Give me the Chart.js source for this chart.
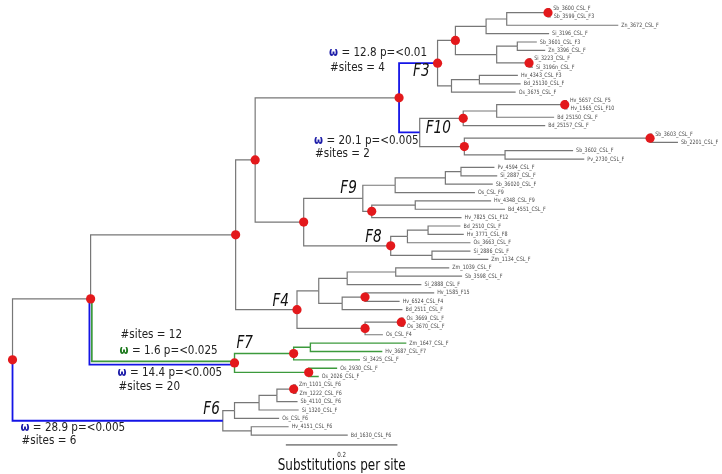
<!DOCTYPE html>
<html>
<head>
<meta charset="utf-8">
<script src="https://cdn.jsdelivr.net/npm/chart.js@4.4.0/dist/chart.umd.min.js"></script>
<style>
html, body { margin: 0; padding: 0; background: #fff; }
#wrap { width: 722px; height: 474px; position: relative; }
</style>
</head>
<body>
<div id="wrap"><canvas id="tree"></canvas></div>
<script>
//leaf tips, top to bottom as they appear in the tree
var leafNames = [
    "Sb_3600_CSL_F", "Sb_3599_CSL_F3", "Zn_3672_CSL_F", "Si_3196_CSL_F",
    "Sb_3601_CSL_F3", "Zn_3396_CSL_F", "Si_3223_CSL_F", "Si_3196n_CSL_F",
    "Hv_4343_CSL_F3", "Bd_25130_CSL_F", "Os_3675_CSL_F",
    "Hv_5657_CSL_F5", "Hv_1565_CSL_F10", "Bd_25150_CSL_F", "Bd_25157_CSL_F",
    "Sb_3603_CSL_F", "Sb_2201_CSL_F", "Sb_3602_CSL_F", "Pv_2730_CSL_F",
    "Pv_4594_CSL_F", "Si_2887_CSL_F", "Sb_36020_CSL_F", "Os_CSL_F9",
    "Hv_4348_CSL_F9", "Bd_4551_CSL_F", "Hv_7825_CSL_F12",
    "Bd_2510_CSL_F", "Hv_3771_CSL_F8", "Os_3663_CSL_F", "Si_2886_CSL_F", "Zm_1134_CSL_F",
    "Zm_1039_CSL_F", "Sb_3598_CSL_F", "Si_2888_CSL_F", "Hv_1585_F15", "Hv_6524_CSL_F4",
    "Bd_2511_CSL_F", "Os_3669_CSL_F", "Os_3670_CSL_F", "Os_CSL_F4",
    "Zm_1647_CSL_F", "Hv_3687_CSL_F7", "Si_3425_CSL_F", "Os_2930_CSL_F", "Os_2026_CSL_F",
    "Zm_1101_CSL_F6", "Zm_1222_CSL_F6", "Sb_4110_CSL_F6", "Si_1320_CSL_F", "Os_CSL_F6",
    "Hv_4151_CSL_F6", "Bd_1630_CSL_F6"
];
var leafParent = [
    "n12", "n12", "F3a1a", "F3a1", "n56", "n56", "n78", "n78", "n910", "n910", "F3b",
    "n1213", "n1213", "F10a1", "F10a", "n1617", "n1617", "n1819", "n1819",
    "n2021", "n2021", "F9a1", "F9a", "n2425", "n2425", "F9b",
    "n2728", "n2728", "F8a", "n3031", "n3031",
    "n3233", "n3233", "F4a1", "n3536", "n3536", "F4a2", "n3839", "n3839", "F4b",
    "n4142", "n4142", "F7a", "n4445", "n4445",
    "n4647", "n4647", "F6a1a", "F6a1", "F6a", "n5152", "n5152"
];
var leafLength = [
    0.004, 0.005, 0.200, 0.113, 0.035, 0.050, 0.004, 0.007, 0.069, 0.074, 0.115,
    0.004, 0.005, 0.103, 0.147, 0.004, 0.050, 0.122, 0.142,
    0.060, 0.065, 0.085, 0.143, 0.136, 0.161, 0.161,
    0.058, 0.064, 0.113, 0.069, 0.101,
    0.096, 0.119, 0.133, 0.124, 0.062, 0.108, 0.004, 0.005, 0.032,
    0.172, 0.129, 0.119, 0.051, 0.018,
    0.004, 0.005, 0.037, 0.071, 0.080, 0.067, 0.173
];

//internal nodes, every parent listed before its children
var nodeNames = [
    "R", "B", "F6", "C", "F7", "D", "F4", "P", "E", "F3", "F10",
    "F3a", "F3a1", "F3a1a", "n12", "F3a2", "n56", "n78", "F3b", "n910",
    "F10a", "F10a1", "n1213", "F10b", "n1617", "n1819",
    "F9", "F9a", "F9a1", "n2021", "F9b", "n2425",
    "F8", "F8a", "n2728", "n3031",
    "F4a", "F4a1", "n3233", "F4a2", "n3536", "F4b", "n3839",
    "F7a", "n4142", "n4445",
    "F6a", "F6a1", "F6a1a", "n4647", "n5152"
];
var nodeParent = [
    null, "R", "R", "B", "B", "C", "C", "D", "D", "P", "P",
    "F3", "F3a", "F3a1", "F3a1a", "F3a", "F3a2", "F3a2", "F3", "F3b",
    "F10", "F10a", "F10a1", "F10", "F10b", "F10b",
    "E", "F9", "F9a", "F9a1", "F9", "F9b",
    "E", "F8", "F8a", "F8",
    "F4", "F4a", "F4a1", "F4a", "F4a2", "F4", "F4b",
    "F7", "F7a", "F7",
    "F6", "F6a", "F6a1", "F6a1a", "F6"
];
var nodeLength = [
    0, 0.140, 0.377, 0.260, 0.258, 0.035, 0.110, 0.258, 0.087, 0.069, 0.037,
    0.032, 0.055, 0.037, 0.074, 0.074, 0.037, 0.058, 0.025, 0.050,
    0.078, 0.060, 0.122, 0.080, 0.333, 0.073,
    0.106, 0.058, 0.090, 0.028, 0.016, 0.078,
    0.156, 0.030, 0.037, 0.074,
    0.039, 0.051, 0.087, 0.042, 0.041, 0.122, 0.065,
    0.106, 0.030, 0.133,
    0.021, 0.044, 0.032, 0.030, 0.051
];

//nodes with a red dot (supported nodes)
var dotNodes = ["R", "B", "C", "D", "E", "P", "F3", "F3a", "n12", "n78", "F10a", "n1213",
    "F10b", "n1617", "F9b", "F8", "F4", "n3536", "F4b", "n3839", "F7", "F7a", "n4445", "n4647"];

var cladeNames = ["F3", "F10", "F9", "F8", "F4", "F7", "F6"];

//branches under positive selection
var selBranch = ["F3", "F10", "F7", "F7", "F6"];
var selColor = ["blue", "blue", "green", "blue", "blue"];
var selOmega = ["12.8", "20.1", "1.6", "14.4", "28.9"];
var selP = ["<0.01", "<0.005", "<0.025", "<0.005", "<0.005"];
var selSites = [4, 2, 12, 20, 6];

var rootEdge = 0.008;
var scaleBarValue = 0.2;
var scaleBarLabel = "Substitutions per site";

//layout
var X_MIN = -0.0142, X_MAX = 1.2637;
var Y_MIN = -0.47, Y_MAX = 55.10;
var SQUISH = 0.8;
var GRAY = "#777777", BLUE = "#1414e6", GREEN = "#3c9a3c", RED = "#e3191c";
var OMEGA_BLUE = "#1c1ca8", OMEGA_GREEN = "#1f7a1f";
var pxX = (X_MAX - X_MIN) / 722;
var pxY = (Y_MAX - Y_MIN) / 474;

//build the tree
var nodes = {};
$each = function (arr, fn) { for (var i = 0; i < arr.length; i++) fn(i, arr[i]); };
$each(nodeNames, function (i, name) {
    nodes[name] = { name: name, parent: nodeParent[i], len: nodeLength[i], children: [], leaf: false };
});
$each(leafNames, function (i, name) {
    nodes[name] = { name: name, parent: leafParent[i], len: leafLength[i], children: [], leaf: true, y: i };
});
$each(nodeNames.concat(leafNames), function (i, name) {
    var n = nodes[name];
    if (n.parent) {
        nodes[n.parent].children.push(name);
        n.depth = nodes[n.parent].depth + n.len;
    } else {
        n.depth = 0;
    }
});
function getY(name) {
    var n = nodes[name];
    if (n.y !== undefined) return n.y;
    var ys = n.children.map(getY);
    n.y = (Math.min.apply(null, ys) + Math.max.apply(null, ys)) / 2;
    return n.y;
}
getY("R");

function inClade(name, clade) {
    while (name) {
        if (name === clade) return true;
        name = nodes[name].parent;
    }
    return false;
}

var datasets = [];
datasets.push({
    data: dotNodes.map(function (name) { return { x: nodes[name].depth, y: nodes[name].y }; }),
    showLine: false,
    pointRadius: 4.6,
    pointBackgroundColor: RED,
    pointBorderWidth: 0,
    order: 0
});

function branchLine(n, color, width, dx, dy) {
    var p = nodes[n.parent];
    datasets.push({
        data: [
            { x: p.depth + dx, y: p.y },
            { x: p.depth + dx, y: n.y + dy },
            { x: n.depth, y: n.y + dy }
        ],
        showLine: true,
        pointRadius: 0,
        borderColor: color,
        borderWidth: width,
        borderJoinStyle: "miter",
        borderCapStyle: "butt",
        tension: 0,
        fill: false,
        order: 1
    });
}

$each(nodeNames.concat(leafNames), function (i, name) {
    var n = nodes[name];
    if (!n.parent) return;
    if (name === "F7") {
        branchLine(n, BLUE, 1.8, -1.2 * pxX, 1.6 * pxY);
        branchLine(n, GREEN, 1.8, 1.2 * pxX, -1.6 * pxY);
    } else if (selBranch.indexOf(name) >= 0) {
        branchLine(n, BLUE, 1.8, 0, 0);
    } else if (inClade(name, "F7")) {
        branchLine(n, GREEN, 1.4, 0, 0);
    } else {
        branchLine(n, GRAY, 1.2, 0, 0);
    }
});

//root stub
datasets.push({
    data: [{ x: -rootEdge, y: nodes.R.y }, { x: 0, y: nodes.R.y }],
    showLine: true, pointRadius: 0, borderColor: GRAY, borderWidth: 1.2, order: 1
});

//scale bar
var barStart = 0.49, barY = 52.17;
datasets.push({
    data: [{ x: barStart, y: barY }, { x: barStart + scaleBarValue, y: barY }],
    showLine: true, pointRadius: 0, borderColor: "#8c8c8c", borderWidth: 1.6, order: 1
});

function squishText(ctx, txt, x, y, font, color, align) {
    ctx.save();
    ctx.font = font;
    ctx.fillStyle = color;
    ctx.textBaseline = "middle";
    ctx.textAlign = "left";
    var w = ctx.measureText(txt).width * SQUISH;
    var left = align === "right" ? x - w : (align === "center" ? x - w / 2 : x);
    ctx.translate(left, y);
    ctx.scale(SQUISH, 1);
    ctx.fillText(txt, 0, 0);
    ctx.restore();
    return w;
}

//offsets of the clade names from their node, px
var cladePos = {
    F3: [-8, 8, "right"], F10: [6, -4, "left"], F9: [-6, -10, "right"], F8: [-9, -8, "right"],
    F4: [-8, -8, "right"], F7: [2, -19, "left"], F6: [-3, -11, "right"]
};
//omega label offsets: [anchor node for x, dx, dy omega line, dy sites line]
var selPos = [
    ["P", -70, -11, 4], ["P", -85, 8, 21], ["B", 29, -12, -28], ["B", 27, 10, 24], ["R", 8, 7, 20]
];

var treeText = {
    id: "treeText",
    afterDatasetsDraw: function (chart) {
        var ctx = chart.ctx;
        var xs = chart.scales.x, ys = chart.scales.y;
        function px(n) { return xs.getPixelForValue(n.depth); }
        function py(n) { return ys.getPixelForValue(n.y); }

        $each(leafNames, function (i, name) {
            var n = nodes[name];
            squishText(ctx, name, px(n) + 3, py(n), '6px "DejaVu Sans"', "#4a4a4a", "left");
        });

        $each(cladeNames, function (i, name) {
            var n = nodes[name], o = cladePos[name];
            squishText(ctx, name, px(n) + o[0], py(n) + o[1], 'italic 17px "DejaVu Sans"', "#111", o[2]);
        });

        $each(selBranch, function (i, name) {
            var o = selPos[i];
            var ax = px(nodes[o[0]]) + o[1];
            var by = py(nodes[name]);
            var wc = selColor[i] === "green" ? OMEGA_GREEN : OMEGA_BLUE;
            var w = squishText(ctx, "\u03c9", ax, by + o[2], 'bold 13px "DejaVu Sans"', wc, "left");
            squishText(ctx, " = " + selOmega[i] + " p=" + selP[i], ax + w, by + o[2], '13px "DejaVu Sans"', "#222", "left");
            squishText(ctx, "#sites = " + selSites[i], ax + 1, by + o[3], '13px "DejaVu Sans"', "#222", "left");
        });

        var bx = xs.getPixelForValue(barStart + scaleBarValue / 2);
        var byp = ys.getPixelForValue(barY);
        squishText(ctx, String(scaleBarValue), bx, byp + 10, '7px "DejaVu Sans"', "#333", "center");
        squishText(ctx, scaleBarLabel, bx, byp + 21, '15px "DejaVu Sans"', "#111", "center");
    }
};

new Chart(document.getElementById("tree").getContext("2d"), {
    type: "scatter",
    data: { datasets: datasets },
    options: {
        responsive: true,
        maintainAspectRatio: false,
        animation: false,
        events: [],
        layout: { padding: 0 },
        plugins: { legend: { display: false }, tooltip: { enabled: false } },
        scales: {
            x: { type: "linear", display: false, min: X_MIN, max: X_MAX },
            y: { type: "linear", display: false, min: Y_MIN, max: Y_MAX, reverse: true }
        }
    },
    plugins: [treeText]
});
</script>
</body>
</html>
